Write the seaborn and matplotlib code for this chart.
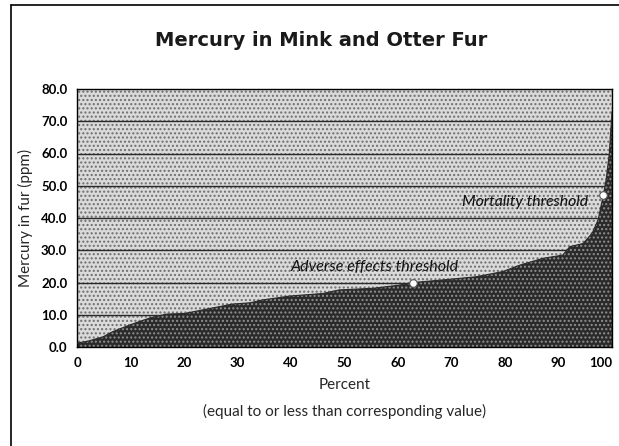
import numpy as np
import pandas as pd
import matplotlib
matplotlib.use("Agg")
import matplotlib.pyplot as plt
import seaborn as sns
from matplotlib.patches import Rectangle
from matplotlib.lines import Line2D

# cumulative percent vs mercury in fur (ppm)
percent = [0, 2, 4.8, 6.6, 9.8, 13.6, 16.7, 20.1, 23.5, 29, 32.3, 34.7, 39.8, 46, 49,
           55.3, 60.3, 62.8, 68.4, 74.7, 79.6, 82.8, 87.1, 90.8, 92.1, 94.6, 96.3,
           97.4, 98.3, 98.9, 99.5, 100]
mercury = [1.2, 1.8, 3.1, 4.7, 6.8, 9.0, 10.2, 10.4, 11.5, 13.3, 13.7, 14.6, 15.8, 16.6, 17.7,
           18.2, 19.2, 20.0, 20.8, 21.8, 23.4, 25.4, 27.5, 28.5, 31.1, 32.1, 35.3,
           39.4, 46.5, 51.8, 60.0, 73.0]
thr_names = ["Adverse effects threshold", "Mortality threshold"]
thr_pct = [62.8, 98.3]
thr_val = [20.0, 47.0]
xticks = list(range(0, 101, 10))
yticks = [i * 10.0 for i in range(9)]

sns.set_style("white")
plt.rcParams["font.family"] = ["Lato", "DejaVu Sans"]

df = pd.DataFrame({"pct": percent, "hg": mercury})

fig = plt.figure(figsize=(6.19, 4.46), dpi=100)
ax = fig.add_axes([77 / 619, 1 - 347 / 446, 535 / 619, 258 / 446])

# stippled background
ax.add_patch(Rectangle((0, 0), 1, 1, transform=ax.transAxes, facecolor="#dadada",
                       edgecolor="#6e6e6e", hatch="....", lw=0, zorder=0))
for v in yticks[1:-1]:
    ax.axhline(v, color="#2a2a2a", lw=1.0, zorder=1)

ax.fill_between(df["pct"], 0, df["hg"], facecolor="#2a2a2a", edgecolor="#909090",
                hatch="....", lw=0, zorder=2)
sns.lineplot(data=df, x="pct", y="hg", ax=ax, color="#2a2a2a", lw=0.8, zorder=3)

sns.scatterplot(x=thr_pct, y=thr_val, ax=ax, s=30, color="white", edgecolor="#555555",
                linewidth=0.8, zorder=4)
ax.text(71.4, 24.8, thr_names[0], ha="right", va="center", fontsize=11.5,
        style="italic", color="#111111", zorder=5)
ax.text(95.5, 45.0, thr_names[1], ha="right", va="center", fontsize=11.3,
        style="italic", color="#111111", zorder=5)

ax.set_xlim(0, 100)
ax.set_ylim(0, 80)
ax.set_xticks(xticks)
ax.set_yticks(yticks)
ax.set_yticklabels([f"{v:.1f}" for v in yticks])
ax.tick_params(axis="both", direction="out", length=3, width=0.8, labelsize=9.5,
               pad=4, colors="black")
for lab in ax.get_xticklabels() + ax.get_yticklabels():
    lab.set_fontweight("bold")
ax.get_xticklabels()[-1].set_horizontalalignment("right")
for s in ax.spines.values():
    s.set_color("black")
    s.set_linewidth(1.0)
    s.set_visible(True)

ax.set_xlabel("")
ax.set_ylabel("Mercury in fur (ppm)", fontsize=11, labelpad=6)
fig.text(345 / 619, 1 - 385 / 446, "Percent", ha="center", va="center", fontsize=11)
fig.text(345 / 619, 1 - 411 / 446, "(equal to or less than corresponding value)",
         ha="center", va="center", fontsize=11)
fig.text(321 / 619, 1 - 40 / 446, "Mercury in Mink and Otter Fur", ha="center",
         va="center", fontsize=14, fontweight="bold", color="#1a1a1a",
         family=["DejaVu Sans"])

# frame lines at the page edge
fig.add_artist(Line2D([11 / 619, 11 / 619], [0, 1 - 5 / 446], color="black", lw=1.2))
fig.add_artist(Line2D([11 / 619, 1], [1 - 5 / 446, 1 - 5 / 446], color="black", lw=1.2))

fig.savefig("out.png", dpi=100)
